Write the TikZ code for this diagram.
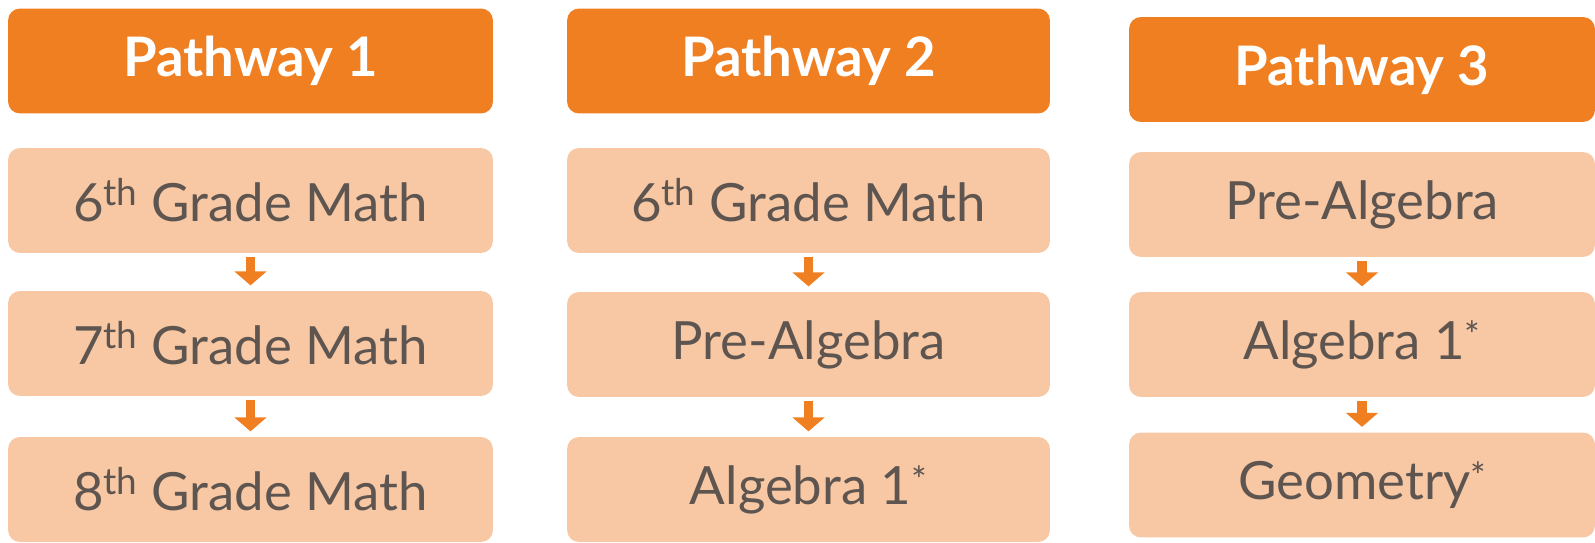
\documentclass[tikz,border=0pt]{standalone}
\usepackage{fontspec}
\setmainfont{Lato}
\usepackage{tikz}
\usetikzlibrary{arrows.meta, positioning}

\definecolor{pathorange}{HTML}{F07F22}
\definecolor{coursefill}{HTML}{F7C8A3}
\definecolor{coursetext}{HTML}{5E5550}
\newcommand{\starnote}{\raisebox{6pt}{\fontsize{21}{21}\selectfont *}}

\begin{document}
\begin{tikzpicture}[x=0.02cm, y=-0.02cm,
  header/.style={fill=pathorange, rounded corners=0.24cm, minimum height=2.1cm, text=white, font=\fontsize{31}{34}\selectfont\bfseries},
  course/.style={fill=coursefill, rounded corners=0.24cm, minimum height=2.1cm, text=coursetext, font=\fontsize{30}{33}\selectfont},
  step arrow/.style={draw=pathorange, line width=5.5pt, -{Triangle[width=18pt, length=8pt]}, shorten <=2pt, shorten >=3pt}]
\useasboundingbox (0,0) rectangle (1595,543);

% Pathway headers
\node[header, minimum width=9.7cm]  (path1) at (250.5,61)  {Pathway 1};
\node[header, minimum width=9.66cm] (path2) at (808.5,61)  {Pathway 2};
\node[header, minimum width=9.32cm] (path3) at (1362,69.5) {Pathway 3};

% Courses, first pathway
\node[course, minimum width=9.7cm] (p1a) at (250.5,200.5) {6\textsuperscript{th} Grade Math};
\node[course, minimum width=9.7cm] (p1b) at (250.5,343.5) {7\textsuperscript{th} Grade Math};
\node[course, minimum width=9.7cm] (p1c) at (250.5,489.5) {8\textsuperscript{th} Grade Math};

% Courses, second pathway
\node[course, minimum width=9.66cm] (p2a) at (808.5,200.5) {6\textsuperscript{th} Grade Math};
\node[course, minimum width=9.66cm] (p2b) at (808.5,344.5) {Pre-Algebra};
\node[course, minimum width=9.66cm] (p2c) at (808.5,489.5) {Algebra 1\starnote};

% Courses, third pathway
\node[course, minimum width=9.32cm] (p3a) at (1362,204.5) {Pre-Algebra};
\node[course, minimum width=9.32cm] (p3b) at (1362,344.5) {Algebra 1\starnote};
\node[course, minimum width=9.32cm] (p3c) at (1362,485)   {Geometry\starnote};

% Arrows between courses
\draw[step arrow] (p1a) -- (p1b);
\draw[step arrow] (p1b) -- (p1c);
\draw[step arrow] (p2a) -- (p2b);
\draw[step arrow] (p2b) -- (p2c);
\draw[step arrow] (p3a) -- (p3b);
\draw[step arrow] (p3b) -- (p3c);
\end{tikzpicture}
\end{document}
